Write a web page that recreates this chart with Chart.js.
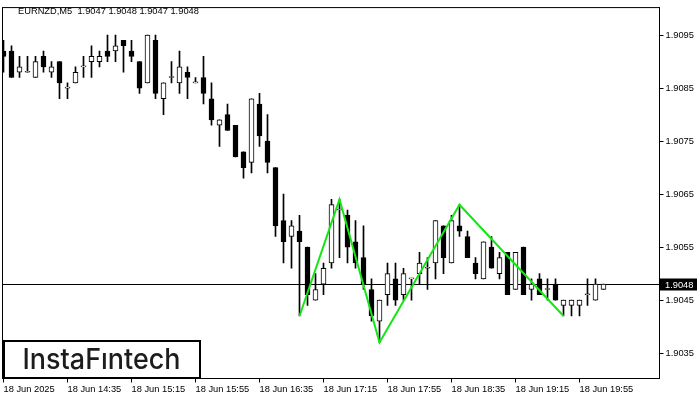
<!DOCTYPE html>
<html>
<head>
<meta charset="utf-8">
<script src="https://cdn.jsdelivr.net/npm/chart.js@4.4.1/dist/chart.umd.min.js"></script>
<style>
html,body{margin:0;padding:0;background:#fff;}
canvas{display:block;}
</style>
</head>
<body>
<canvas id="c" width="700" height="400"></canvas>
<script>
// EURNZD M5 bars, 18 Jun 13:55 .. 20:10
const OPEN = [
  1.9092,1.9092,1.9088,1.9088,1.9087,1.9091,1.9088,1.9090,1.9085,1.9086,
  1.9089,1.9090,1.9090,1.9092,1.9092,1.9094,1.9092,1.9090,1.9086,1.9094,
  1.9083,1.9087,1.9086,1.9088,1.9086,1.9087,1.9083,1.9078,1.9080,1.9078,
  1.9073,1.9071,1.9082,1.9075,1.9070,1.9060,1.9057,1.9058,1.9055,1.9045,
  1.9048,1.9052,1.9062,1.9061,1.9056,1.9053,1.9047,1.9041,1.9046,1.9049,
  1.9046,1.9049,1.9050,1.9051,1.9052,1.9059,1.9052,1.9059,1.9057,1.9052,
  1.9049,1.9055,1.9050,1.9054,1.9047,1.9055,1.9047,1.9049,1.9047,1.9048,
  1.9044,1.9044,1.9044,1.9046,1.9045,1.9047
];
const HIGH = [
  1.9094,1.9093,1.9091,1.9091,1.9091,1.9092,1.9090,1.9090,1.9086,1.9089,
  1.9091,1.9093,1.9092,1.9095,1.9095,1.9094,1.9094,1.9090,1.9095,1.9095,
  1.9086,1.9090,1.9092,1.9089,1.9087,1.9091,1.9086,1.9079,1.9082,1.9078,
  1.9073,1.9083,1.9084,1.9080,1.9070,1.9065,1.9060,1.9061,1.9055,1.9050,
  1.9052,1.9064,1.9064,1.9062,1.9060,1.9059,1.9049,1.9045,1.9052,1.9052,
  1.9051,1.9049,1.9054,1.9053,1.9060,1.9059,1.9061,1.9063,1.9058,1.9053,
  1.9056,1.9057,1.9054,1.9054,1.9054,1.9055,1.9049,1.9050,1.9049,1.9049,
  1.9045,1.9045,1.9045,1.9049,1.9049,1.9048
];
const LOW = [
  1.9088,1.9087,1.9087,1.9088,1.9087,1.9088,1.9087,1.9083,1.9083,1.9086,
  1.9087,1.9087,1.9089,1.9090,1.9090,1.9088,1.9090,1.9084,1.9086,1.9083,
  1.9080,1.9086,1.9084,1.9083,1.9086,1.9082,1.9078,1.9074,1.9077,1.9072,
  1.9068,1.9069,1.9074,1.9069,1.9057,1.9052,1.9051,1.9042,1.9044,1.9045,
  1.9046,1.9051,1.9053,1.9052,1.9051,1.9047,1.9041,1.9037,1.9044,1.9044,
  1.9045,1.9045,1.9048,1.9047,1.9049,1.9050,1.9052,1.9057,1.9053,1.9049,
  1.9049,1.9051,1.9049,1.9046,1.9047,1.9046,1.9045,1.9046,1.9045,1.9045,
  1.9042,1.9042,1.9042,1.9044,1.9045,1.9047
];
const CLOSE = [
  1.9091,1.9087,1.9089,1.9088,1.9090,1.9089,1.9089,1.9086,1.9085,1.9088,
  1.9089,1.9091,1.9091,1.9091,1.9093,1.9093,1.9091,1.9085,1.9095,1.9084,
  1.9086,1.9087,1.9089,1.9087,1.9086,1.9084,1.9079,1.9079,1.9077,1.9072,
  1.9070,1.9083,1.9076,1.9071,1.9059,1.9056,1.9059,1.9056,1.9046,1.9047,
  1.9051,1.9063,1.9062,1.9055,1.9052,1.9048,1.9042,1.9045,1.9050,1.9045,
  1.9050,1.9049,1.9052,1.9051,1.9060,1.9053,1.9060,1.9058,1.9053,1.9050,
  1.9056,1.9051,1.9053,1.9046,1.9054,1.9046,1.9048,1.9046,1.9047,1.9045,
  1.9045,1.9045,1.9045,1.9046,1.9048,1.9048
];

// pattern (green zigzag): bar index + price
const PATTERN_IDX = [37, 42, 47, 57, 70];
const PATTERN_VAL = [1.9042, 1.9064, 1.9037, 1.9063, 1.9042];

const BID = 1.9048;
const HEADER = 'EURNZD,M5  1.9047 1.9048 1.9047 1.9048';

const X_TICK_POS = [0, 8, 16, 24, 32, 40, 48, 56, 64, 72];
const X_TICK_LABELS = ['18 Jun 2025','18 Jun 14:35','18 Jun 15:15','18 Jun 15:55','18 Jun 16:35',
  '18 Jun 17:15','18 Jun 17:55','18 Jun 18:35','18 Jun 19:15','18 Jun 19:55'];
const Y_TICKS = [1.9035, 1.9045, 1.9055, 1.9065, 1.9075, 1.9085, 1.9095];

const FONT = 'Liberation Sans';

const wickData = HIGH.map((h, i) => ({x: i, y: [LOW[i], h]}));
const bodyData = OPEN.map((o, i) => ({x: i, y: [o, CLOSE[i]]}));
const patternData = PATTERN_IDX.map((x, i) => ({x: x, y: PATTERN_VAL[i]}));

// frame, bid line, price tag, header, logo
const mtOverlay = {
  id: 'mtOverlay',
  beforeDatasetsDraw(chart) {
    const {ctx, chartArea: a, scales: {y}} = chart;
    const py = Math.floor(y.getPixelForValue(BID)) + 0.5;
    ctx.save();
    ctx.strokeStyle = '#000';
    ctx.lineWidth = 1;
    ctx.beginPath();
    ctx.moveTo(a.left, py);
    ctx.lineTo(a.right, py);
    ctx.stroke();
    ctx.restore();
  },
  afterDraw(chart) {
    const {ctx, chartArea: a, scales: {y}} = chart;
    ctx.save();
    ctx.strokeStyle = '#000';
    ctx.lineWidth = 1;
    ctx.strokeRect(a.left, a.top, a.right - a.left, a.bottom - a.top);

    // bid price tag
    const py = Math.floor(y.getPixelForValue(BID)) + 0.5;
    ctx.fillStyle = '#000';
    ctx.fillRect(660, py - 6, 37, 12);
    ctx.fillStyle = '#fff';
    ctx.font = '9.3px "' + FONT + '"';
    ctx.textBaseline = 'middle';
    ctx.textAlign = 'left';
    ctx.fillText(BID.toFixed(4), 665, py + 0.5);

    // header
    ctx.fillStyle = '#000';
    ctx.fillText(HEADER, 18, 11);

    // logo box
    ctx.fillStyle = '#fff';
    ctx.fillRect(4, 341, 196, 37);
    ctx.lineWidth = 2;
    ctx.strokeRect(4, 341, 196, 37);
    ctx.font = '500 29px Inter';
    ctx.textBaseline = 'alphabetic';
    const txt = 'InstaF\u0131ntech';
    const w = ctx.measureText(txt).width;
    ctx.translate(22.5, 369);
    ctx.scale(158 / w, 1);
    ctx.fillStyle = '#1c1c1c';
    ctx.fillText(txt, 0, 0);
    ctx.restore();
  }
};

new Chart(document.getElementById('c'), {
  data: {
    datasets: [
      {type: 'line', data: patternData, borderColor: '#14e614', borderWidth: 2,
       pointRadius: 0, tension: 0, order: 1},
      {type: 'bar', data: bodyData, grouped: false, barThickness: 5, minBarLength: 1,
       borderWidth: 1, borderColor: '#000', borderSkipped: false,
       backgroundColor: c => (CLOSE[c.dataIndex] < OPEN[c.dataIndex] ? '#000' : '#fff'), order: 2},
      {type: 'bar', data: wickData, grouped: false, barThickness: 1,
       backgroundColor: '#000', borderWidth: 0, order: 3}
    ]
  },
  options: {
    responsive: false,
    animation: false,
    events: [],
    layout: {padding: {left: 2.5, top: 2.5, right: 0, bottom: 0}},
    plugins: {legend: {display: false}, tooltip: {enabled: false}},
    scales: {
      x: {
        type: 'linear',
        offset: false,
        min: -0.125,
        max: 82,
        afterBuildTicks: s => { s.ticks = X_TICK_POS.map(v => ({value: v})); },
        afterFit: s => { s.height = 21.5; },
        grid: {offset: false, drawOnChartArea: false, tickLength: 4, color: '#000'},
        border: {display: true, color: '#000'},
        ticks: {
          autoSkip: false, maxRotation: 0, align: 'start', padding: 1,
          color: '#000', font: {family: FONT, size: 9.3},
          callback: (v, i) => X_TICK_LABELS[i]
        }
      },
      y: {
        position: 'right',
        min: 1.90302,
        max: 1.91002,
        afterBuildTicks: s => { s.ticks = Y_TICKS.map(v => ({value: v})); },
        afterFit: s => { s.width = 40.5; },
        grid: {drawOnChartArea: false, tickLength: 4, color: '#000'},
        border: {display: true, color: '#000'},
        ticks: {
          padding: 2, color: '#000', font: {family: FONT, size: 9.3},
          callback: v => v.toFixed(4)
        }
      }
    }
  },
  plugins: [mtOverlay]
});
</script>
</body>
</html>
